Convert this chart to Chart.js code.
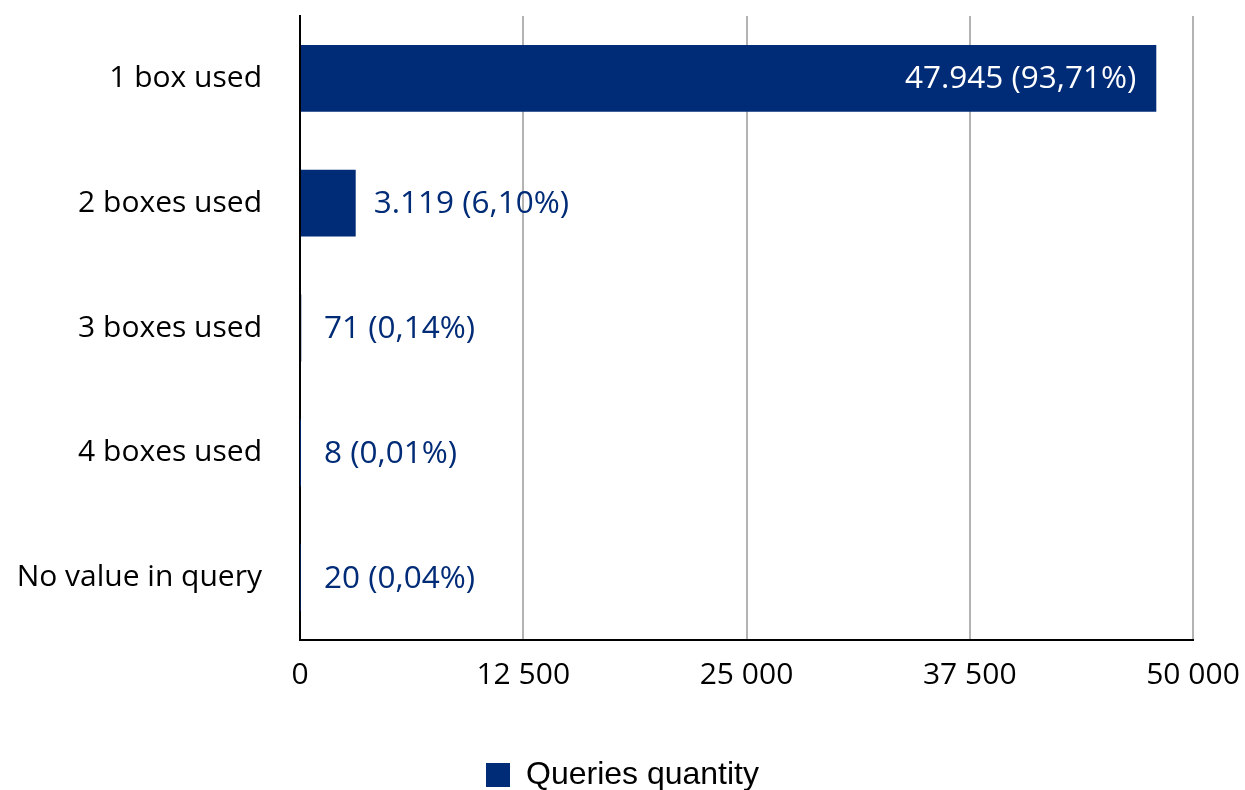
<!DOCTYPE html>
<html>
<head>
<meta charset="utf-8">
<script src="https://cdn.jsdelivr.net/npm/chart.js@4.4.1/dist/chart.umd.min.js"></script>
<style>
  html, body { margin:0; padding:0; background:#fff; }
  #wrap { width:1245px; height:790px; }
</style>
</head>
<body>
<div id="wrap"><canvas id="boxes"></canvas></div>
<script>
const categories = ["1 box used", "2 boxes used", "3 boxes used", "4 boxes used", "No value in query"];
const queryCounts = [47945, 3119, 71, 8, 20];
const queryShares = [93.71, 6.10, 0.14, 0.01, 0.04];
const xTicks = [0, 12500, 25000, 37500, 50000];

const BLUE = "#002B76";
const LABEL_FONT = "'Open Sans', 'Noto Sans', sans-serif";

function spaced(n){
  return String(n).replace(/\B(?=(\d{3})+(?!\d))/g, ' ');
}
function dotted(n){
  return String(n).replace(/\B(?=(\d{3})+(?!\d))/g, '.');
}

/* value labels at the bar ends */
const valueLabels = {
  id:'valueLabels',
  afterDatasetsDraw(chart){
    const ctx = chart.ctx;
    const meta = chart.getDatasetMeta(0);
    ctx.save();
    ctx.font = "31.5px " + LABEL_FONT;
    ctx.textBaseline = 'middle';
    meta.data.forEach((bar, i) => {
      const txt = dotted(queryCounts[i]) + ' (' + queryShares[i].toFixed(2).replace('.', ',') + '%)';
      const w = ctx.measureText(txt).width;
      if (bar.x - bar.base > w + 40) {
        ctx.fillStyle = '#fff';
        ctx.textAlign = 'right';
        ctx.fillText(txt, bar.x - 20, bar.y + 1);
      } else {
        ctx.fillStyle = BLUE;
        ctx.textAlign = 'left';
        ctx.fillText(txt, Math.max(bar.x + 18, bar.base + 23), bar.y + 1);
      }
    });
    ctx.restore();
  }
};

new Chart(document.getElementById('boxes'), {
  type:'bar',
  data:{
    labels: categories,
    datasets:[{
      label:'Queries quantity',
      data: queryCounts,
      backgroundColor: BLUE,
      borderWidth:0,
      categoryPercentage:1,
      barPercentage:0.535
    }]
  },
  options:{
    indexAxis:'y',
    responsive:true,
    maintainAspectRatio:false,
    animation:false,
    layout:{ padding:{ top:16, right:0, left:0, bottom:-11 } },
    plugins:{
      legend:{
        position:'bottom',
        labels:{
          color:'#000',
          boxWidth:24,
          boxHeight:24,
          padding:10,
          font:{ family:"'Liberation Sans', Arial, sans-serif", size:32 }
        }
      },
      tooltip:{ enabled:false }
    },
    scales:{
      x:{
        min:0, max:50000,
        afterBuildTicks: s => { s.ticks = xTicks.map(v => ({ value:v })); },
        afterFit: s => { s.height = 109; s.paddingLeft = 0; s.paddingRight = 52; },
        grid:{ color:'#b3b3b3', lineWidth:2, drawTicks:false },
        border:{ color:'#000', width:2 },
        ticks:{ color:'#000', padding:17, font:{ family:LABEL_FONT, size:30 }, callback: v => spaced(v) }
      },
      y:{
        afterFit: s => { s.width = 300; s.paddingTop = 0; s.paddingBottom = 0; },
        grid:{ display:false, drawTicks:false },
        border:{ color:'#000', width:2 },
        ticks:{ color:'#000', padding:38, font:{ family:LABEL_FONT, size:30 } }
      }
    }
  },
  plugins:[valueLabels]
});
</script>
</body>
</html>
